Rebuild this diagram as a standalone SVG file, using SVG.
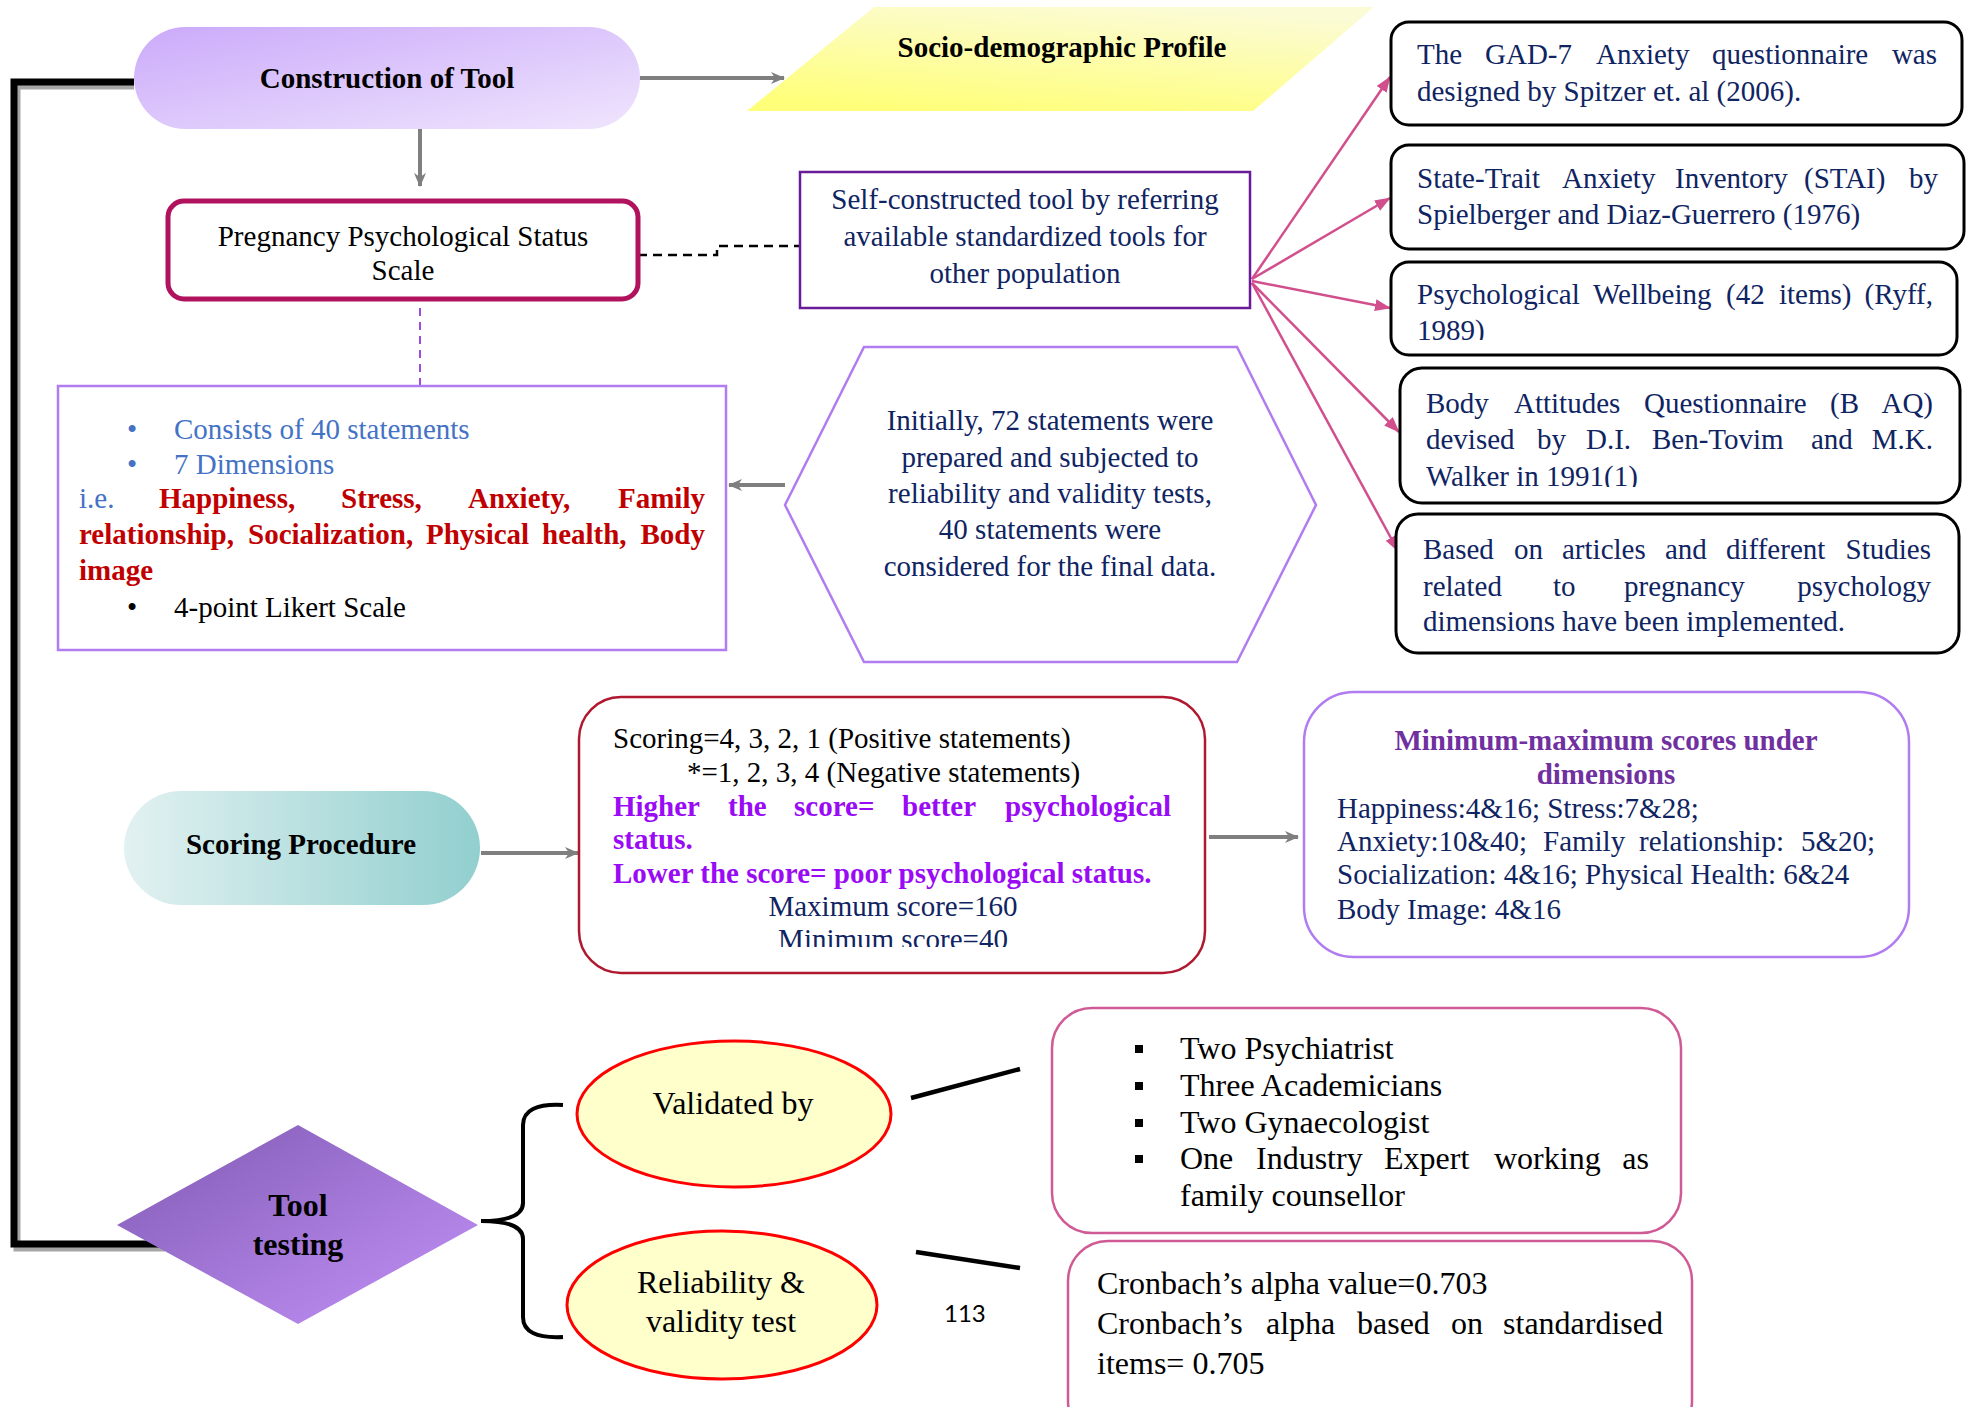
<svg xmlns="http://www.w3.org/2000/svg" width="1966" height="1407" viewBox="0 0 1966 1407">
  <defs>
    <style>
      .t { font-family: 'Liberation Serif', 'Times New Roman', serif; font-size: 29px; fill: #000; }
      .b { font-weight: bold; }
      .big { font-size: 32px; }
      .navy { fill: #0f2462; }
      .blue { fill: #4472c4; }
      .red { fill: #c00000; font-weight: bold; }
      .vio { fill: #9a0bf5; font-weight: bold; }
      .plum { fill: #7030a0; font-weight: bold; }
      .mid { text-anchor: middle; }
      .end { text-anchor: end; }
      .gray { fill: none; stroke: #7f7f7f; stroke-width: 4; }
      .pink { fill: none; stroke: #d24f8d; stroke-width: 2.5; }
      .refbox { fill: #fff; stroke: #000; stroke-width: 3; }
    </style>
    <linearGradient id="gConstruct" x1="0" y1="0" x2="1" y2="1">
      <stop offset="0" stop-color="#cbaafa"/>
      <stop offset="1" stop-color="#efe5fd"/>
    </linearGradient>
    <linearGradient id="gSocio" x1="0.7" y1="0" x2="0.3" y2="1">
      <stop offset="0" stop-color="#fbfbd6"/>
      <stop offset="1" stop-color="#ffff7a"/>
    </linearGradient>
    <linearGradient id="gScoring" x1="0" y1="0" x2="1" y2="0">
      <stop offset="0" stop-color="#e2f1f1"/>
      <stop offset="1" stop-color="#92cfcf"/>
    </linearGradient>
    <linearGradient id="gDiamond" x1="0" y1="0" x2="1" y2="1">
      <stop offset="0" stop-color="#7f5ab3"/>
      <stop offset="1" stop-color="#c492f8"/>
    </linearGradient>
    <marker id="grayHead" viewBox="0 0 14 12" refX="13" refY="6" markerWidth="14" markerHeight="12" markerUnits="userSpaceOnUse" orient="auto">
      <path d="M0,0 L14,6 L0,12 L4,6 Z" fill="#7f7f7f"/>
    </marker>
    <marker id="pinkHead" viewBox="0 0 16 12" refX="15" refY="6" markerWidth="16" markerHeight="12" markerUnits="userSpaceOnUse" orient="auto">
      <path d="M0,0 L16,6 L0,12 Z" fill="#d24f8d"/>
    </marker>
    <clipPath id="clipWellbeing"><rect x="1391" y="262" width="566" height="78"/></clipPath>
    <clipPath id="clipBody"><rect x="1400" y="368" width="560" height="119"/></clipPath>
    <clipPath id="clipScoring"><rect x="579" y="697" width="626" height="250"/></clipPath>
  </defs>

  <rect width="1966" height="1407" fill="#fff"/>

  <!-- connectors -->
  <g id="connectors">
    <!-- heavy frame linking construction to testing -->
    <path d="M134,86 H17 V1248 H165" fill="none" stroke="#a6a6a6" stroke-width="7"/>
    <path d="M134,82 H14 V1244 H165" fill="none" stroke="#000" stroke-width="7"/>
    <line x1="640" y1="78" x2="784" y2="78" class="gray" stroke-width="3" marker-end="url(#grayHead)"/>
    <line x1="420" y1="123" x2="420" y2="186" class="gray" stroke-width="3" marker-end="url(#grayHead)"/>
    <path d="M638,255 H717 V246 H800" fill="none" stroke="#000" stroke-width="2.5" stroke-dasharray="9 6"/>
    <line x1="420" y1="308" x2="420" y2="385" stroke="#9b4be0" stroke-width="2" stroke-dasharray="8 6"/>
    <line x1="785" y1="485" x2="729" y2="485" class="gray" marker-end="url(#grayHead)"/>
    <line x1="481" y1="853" x2="578" y2="853" class="gray" marker-end="url(#grayHead)"/>
    <line x1="1209" y1="837" x2="1298" y2="837" class="gray" marker-end="url(#grayHead)"/>
    <!-- fan from self-constructed tool to reference tools -->
    <line x1="1252" y1="279" x2="1390" y2="77" class="pink" marker-end="url(#pinkHead)"/>
    <line x1="1252" y1="279" x2="1390" y2="198" class="pink" marker-end="url(#pinkHead)"/>
    <line x1="1252" y1="281" x2="1390" y2="308" class="pink" stroke-width="3.5" marker-end="url(#pinkHead)"/>
    <line x1="1252" y1="283" x2="1399" y2="432" class="pink" marker-end="url(#pinkHead)"/>
    <line x1="1252" y1="283" x2="1398" y2="551" class="pink" marker-end="url(#pinkHead)"/>
    <!-- brace and validation ties -->
    <path d="M563,1105 Q523,1103 523,1125 V1203 Q523,1221 481,1221 Q523,1221 523,1239 V1317 Q523,1339 563,1337" fill="none" stroke="#000" stroke-width="4"/>
    <line x1="911" y1="1098" x2="1020" y2="1069" stroke="#000" stroke-width="4.5"/>
    <line x1="916" y1="1252" x2="1020" y2="1268" stroke="#000" stroke-width="4.5"/>
  </g>

  <g id="construction">
    <rect x="134" y="27" width="506" height="102" rx="51" fill="url(#gConstruct)"/>
    <text class="t b mid" x="387" y="88">Construction of Tool</text>
  </g>

  <g id="socio">
    <polygon points="874,7 1374,7 1253,111 747,111" fill="url(#gSocio)"/>
    <text class="t b mid" x="1062" y="57">Socio-demographic Profile</text>
  </g>

  <g id="pregnancy-scale">
    <rect x="168" y="201" width="470" height="98" rx="16" fill="#fff" stroke="#b0125e" stroke-width="5"/>
    <text class="t mid" x="403" y="246">Pregnancy Psychological Status</text>
    <text class="t mid" x="403" y="280">Scale</text>
  </g>

  <g id="self-constructed">
    <rect x="800" y="172" width="450" height="136" fill="#fff" stroke="#6a1b9a" stroke-width="2.5"/>
    <text class="t navy mid" x="1025" y="209">Self-constructed tool by referring</text>
    <text class="t navy mid" x="1025" y="246">available standardized tools for</text>
    <text class="t navy mid" x="1025" y="283">other population</text>
  </g>

  <g id="gad7">
    <rect class="refbox" x="1391" y="22" width="571" height="103" rx="18"/>
    <text class="t navy" y="64"><tspan x="1417">The</tspan><tspan x="1485">GAD-7</tspan><tspan x="1596">Anxiety</tspan><tspan x="1712">questionnaire</tspan></text>
    <text class="t navy end" x="1937" y="64">was</text>
    <text class="t navy" x="1417" y="101">designed by Spitzer et. al (2006).</text>
  </g>

  <g id="stai">
    <rect class="refbox" x="1391" y="145" width="573" height="104" rx="18"/>
    <text class="t navy" y="188"><tspan x="1417">State-Trait</tspan><tspan x="1562">Anxiety</tspan><tspan x="1675">Inventory</tspan><tspan x="1804">(STAI)</tspan></text>
    <text class="t navy end" x="1938" y="188">by</text>
    <text class="t navy" x="1417" y="224">Spielberger and Diaz-Guerrero (1976)</text>
  </g>

  <g id="wellbeing">
    <rect class="refbox" x="1391" y="262" width="566" height="93" rx="18"/>
    <text class="t navy" y="304"><tspan x="1417">Psychological</tspan><tspan x="1593">Wellbeing</tspan><tspan x="1726">(42</tspan><tspan x="1779">items)</tspan></text>
    <text class="t navy end" x="1933" y="304">(Ryff,</text>
    <text class="t navy" x="1417" y="340" clip-path="url(#clipWellbeing)">1989)</text>
  </g>

  <g id="body-attitudes">
    <rect class="refbox" x="1400" y="368" width="560" height="135" rx="22"/>
    <text class="t navy" y="413"><tspan x="1426">Body</tspan><tspan x="1514">Attitudes</tspan><tspan x="1644">Questionnaire</tspan><tspan x="1830">(B</tspan></text>
    <text class="t navy end" x="1933" y="413">AQ)</text>
    <text class="t navy" y="449"><tspan x="1426">devised</tspan><tspan x="1537">by</tspan><tspan x="1586">D.I.</tspan><tspan x="1652">Ben-Tovim</tspan><tspan x="1811">and</tspan></text>
    <text class="t navy end" x="1933" y="449">M.K.</text>
    <text class="t navy" x="1426" y="486" clip-path="url(#clipBody)">Walker in 1991(1)</text>
  </g>

  <g id="based-on-articles">
    <rect class="refbox" x="1396" y="514" width="563" height="139" rx="22"/>
    <text class="t navy" y="559"><tspan x="1423">Based</tspan><tspan x="1514">on</tspan><tspan x="1562">articles</tspan><tspan x="1665">and</tspan><tspan x="1726">different</tspan></text>
    <text class="t navy end" x="1931" y="559">Studies</text>
    <text class="t navy" y="596"><tspan x="1423">related</tspan><tspan x="1553">to</tspan><tspan x="1624">pregnancy</tspan></text>
    <text class="t navy end" x="1931" y="596">psychology</text>
    <text class="t navy" x="1423" y="631">dimensions have been implemented.</text>
  </g>

  <g id="scale-details">
    <rect x="58" y="386" width="668" height="264" fill="#fff" stroke="#b07cf0" stroke-width="2.5"/>
    <text class="t blue" x="127" y="439">•</text>
    <text class="t blue" x="174" y="439">Consists of 40 statements</text>
    <text class="t blue" x="127" y="474">•</text>
    <text class="t blue" x="174" y="474">7 Dimensions</text>
    <text class="t blue" x="79" y="508">i.e.</text>
    <text class="t red" y="508"><tspan x="159">Happiness,</tspan><tspan x="341">Stress,</tspan><tspan x="468">Anxiety,</tspan></text>
    <text class="t red end" x="705" y="508">Family</text>
    <text class="t red" y="544"><tspan x="79">relationship,</tspan><tspan x="248">Socialization,</tspan><tspan x="426">Physical</tspan><tspan x="542">health,</tspan></text>
    <text class="t red end" x="705" y="544">Body</text>
    <text class="t red" x="79" y="580">image</text>
    <text class="t" x="127" y="617">•</text>
    <text class="t" x="174" y="617">4-point Likert Scale</text>
  </g>

  <g id="item-selection">
    <polygon points="864,347 1237,347 1316,505 1237,662 864,662 785,505" fill="#fff" stroke="#b07cf0" stroke-width="2.5"/>
    <text class="t navy mid" x="1050" y="430">Initially, 72 statements were</text>
    <text class="t navy mid" x="1050" y="467">prepared and subjected to</text>
    <text class="t navy mid" x="1050" y="503">reliability and validity tests,</text>
    <text class="t navy mid" x="1050" y="539">40 statements were</text>
    <text class="t navy mid" x="1050" y="576">considered for the final data.</text>
  </g>

  <g id="scoring-procedure">
    <rect x="124" y="791" width="356" height="114" rx="57" fill="url(#gScoring)"/>
    <text class="t b mid" x="301" y="854">Scoring Procedure</text>
  </g>

  <g id="scoring-rules">
    <rect x="579" y="697" width="626" height="276" rx="42" fill="#fff" stroke="#b0182f" stroke-width="2.5"/>
    <text class="t" x="613" y="748">Scoring=4, 3, 2, 1 (Positive statements)</text>
    <text class="t" x="687" y="782">*=1, 2, 3, 4 (Negative statements)</text>
    <text class="t vio" y="816"><tspan x="613">Higher</tspan><tspan x="728">the</tspan><tspan x="794">score=</tspan><tspan x="902">better</tspan></text>
    <text class="t vio end" x="1171" y="816">psychological</text>
    <text class="t vio" x="613" y="849">status.</text>
    <text class="t vio" x="613" y="883">Lower the score= poor psychological status.</text>
    <text class="t navy mid" x="893" y="916">Maximum score=160</text>
    <text class="t navy mid" x="893" y="949" clip-path="url(#clipScoring)">Minimum score=40</text>
  </g>

  <g id="dimension-ranges">
    <rect x="1304" y="692" width="605" height="265" rx="50" fill="#fff" stroke="#b07cf0" stroke-width="2.5"/>
    <text class="t plum mid" x="1606" y="750">Minimum-maximum scores under</text>
    <text class="t plum mid" x="1606" y="784">dimensions</text>
    <text class="t navy" x="1337" y="818">Happiness:4&amp;16; Stress:7&amp;28;</text>
    <text class="t navy" y="851"><tspan x="1337">Anxiety:10&amp;40;</tspan><tspan x="1543">Family</tspan><tspan x="1639">relationship:</tspan></text>
    <text class="t navy end" x="1875" y="851">5&amp;20;</text>
    <text class="t navy" x="1337" y="884">Socialization: 4&amp;16; Physical Health: 6&amp;24</text>
    <text class="t navy" x="1337" y="919">Body Image: 4&amp;16</text>
  </g>

  <g id="tool-testing">
    <polygon points="117,1225 298,1125 478,1225 298,1324" fill="url(#gDiamond)"/>
    <text class="t b mid" x="298" y="1216" style="font-size:32px">Tool</text>
    <text class="t b mid" x="298" y="1255" style="font-size:32px">testing</text>
  </g>

  <g id="validated-by">
    <ellipse cx="734" cy="1114" rx="157" ry="73" fill="#ffffcc" stroke="#ff0000" stroke-width="3"/>
    <text class="t big mid" x="733" y="1114">Validated by</text>
  </g>

  <g id="reliability-validity">
    <ellipse cx="722" cy="1305" rx="155" ry="74" fill="#ffffcc" stroke="#ff0000" stroke-width="3"/>
    <text class="t big mid" x="721" y="1293">Reliability &amp;</text>
    <text class="t big mid" x="721" y="1332">validity test</text>
  </g>

  <g id="experts">
    <rect x="1052" y="1008" width="629" height="225" rx="40" fill="#fff" stroke="#d05a95" stroke-width="2.5"/>
    <rect x="1135" y="1045" width="8" height="8"/>
    <rect x="1135" y="1082" width="8" height="8"/>
    <rect x="1135" y="1119" width="8" height="8"/>
    <rect x="1135" y="1155" width="8" height="8"/>
    <text class="t big" x="1180" y="1059">Two Psychiatrist</text>
    <text class="t big" x="1180" y="1096">Three Academicians</text>
    <text class="t big" x="1180" y="1133">Two Gynaecologist</text>
    <text class="t big" y="1169"><tspan x="1180">One</tspan><tspan x="1256">Industry</tspan><tspan x="1384">Expert</tspan><tspan x="1494">working</tspan></text>
    <text class="t big end" x="1649" y="1169">as</text>
    <text class="t big" x="1180" y="1206">family counsellor</text>
  </g>

  <g id="cronbach">
    <rect x="1068" y="1241" width="624" height="200" rx="40" fill="#fff" stroke="#d05a95" stroke-width="2.5"/>
    <text class="t big" x="1097" y="1294">Cronbach’s alpha value=0.703</text>
    <text class="t big" y="1334"><tspan x="1097">Cronbach’s</tspan><tspan x="1266">alpha</tspan><tspan x="1357">based</tspan><tspan x="1451">on</tspan></text>
    <text class="t big end" x="1663" y="1334">standardised</text>
    <text class="t big" x="1097" y="1374">items= 0.705</text>
  </g>

  <text x="944" y="1322" style="font-family: Lato, 'Liberation Sans', sans-serif; font-size: 24px;">113</text>
</svg>
